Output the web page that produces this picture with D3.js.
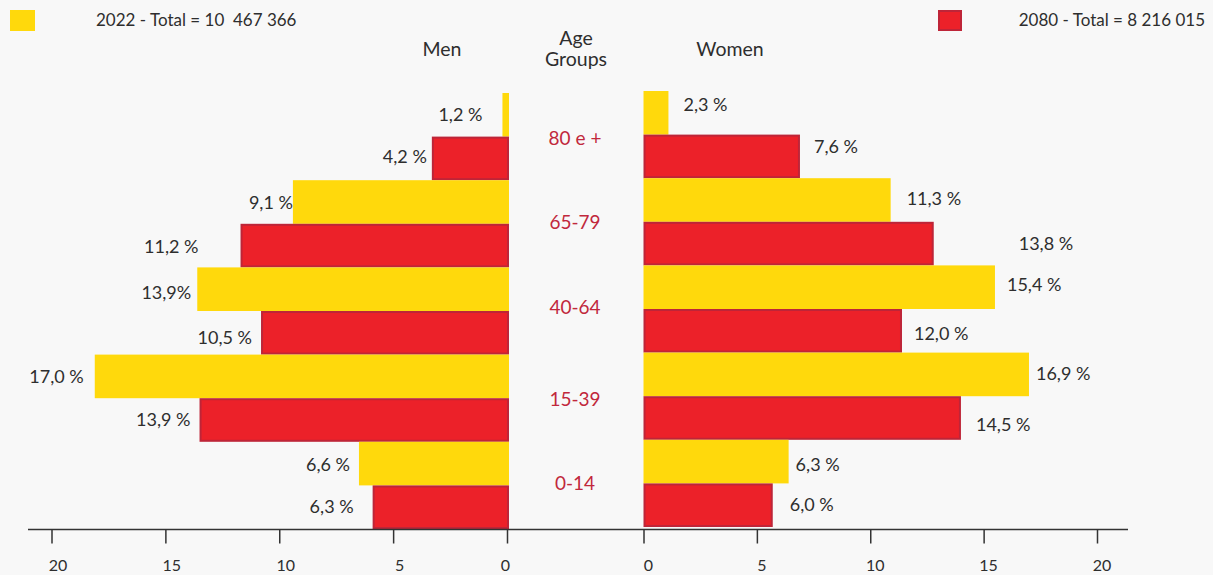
<!DOCTYPE html>
<html>
<head>
<meta charset="utf-8">
<script src="https://cdn.jsdelivr.net/npm/d3@7"></script>
<style>
    body { margin: 0; background: #f8f8f8; }
    svg { display: block; font-family: Lato, "Open Sans", sans-serif; }
</style>
</head>
<body>
<div id="chart"></div>
<script>
// Data
const ageGroups = ["80 e +", "65-79", "40-64", "15-39", "0-14"];
const years = ["2022", "2080"];
// bar lengths as drawn in the picture (%)
const men2022 = [0.2, 9.4, 13.6, 18.1, 6.5];
const men2080 = [3.3, 11.7, 10.8, 13.5, 5.9];
const women2022 = [1.1, 10.9, 15.5, 17.0, 6.4];
const women2080 = [6.9, 12.8, 11.4, 14.0, 5.7];
// printed labels
const menLabels2022 = ["1,2 %", "9,1 %", "13,9%", "17,0 %", "6,6 %"];
const menLabels2080 = ["4,2 %", "11,2 %", "10,5 %", "13,9 %", "6,3 %"];
const womenLabels2022 = ["2,3 %", "11,3 %", "15,4 %", "16,9 %", "6,3 %"];
const womenLabels2080 = ["7,6 %", "13,8 %", "12,0 %", "14,5 %", "6,0 %"];
const tickValues = [0, 5, 10, 15, 20];
const legendLabels = ["2022 - Total = 10  467 366", "2080 - Total = 8 216 015"];

// Layout
const canvas = { w: 1213, h: 575 };
const colors = { "2022": "#ffd90c", "2080": "#ec2129" };
const redStroke = "#be2538";
const textColor = "#2e2e2e";

// label shifts [dx, dy] to follow the original hand placement
const menShift = { "2022": [[-11, 0], [9, 1], [3, 3], [-2, 0], [0, 1]],
                   "2080": [[4, -2], [-33, 1], [0, 5], [0, 0], [-10, -1]] };
const womenShift = { "2022": [[3, -8], [4, -1], [0, -3], [-5, -1], [-5, 3]],
                     "2080": [[2, -10], [73, 0], [0, 3], [3, 7], [5, -1]] };
const ageShift = [2, -1, -4, 1, -2];

// Build rows
const rows = [];
ageGroups.forEach((g, i) => {
    rows.push({ group: g, year: "2022", i, men: men2022[i], women: women2022[i],
                menLabel: menLabels2022[i], womenLabel: womenLabels2022[i] });
    rows.push({ group: g, year: "2080", i, men: men2080[i], women: women2080[i],
                menLabel: menLabels2080[i], womenLabel: womenLabels2080[i] });
});
const key = d => d.group + "|" + d.year;

// Scales
const y = d3.scaleBand().domain(rows.map(key)).range([93, 529]).padding(0);
const xMen = d3.scaleLinear().domain([0, 20]).range([507, 51.5]);
const xWomen = d3.scaleLinear().domain([0, 20]).range([643.5, 1097]);

const svg = d3.select("#chart").append("svg")
    .attr("width", canvas.w)
    .attr("height", canvas.h)
    .attr("viewBox", `0 0 ${canvas.w} ${canvas.h}`);

svg.append("rect").attr("width", canvas.w).attr("height", canvas.h).attr("fill", "#f8f8f8");

// Legend
svg.append("rect").attr("x", 10).attr("y", 10).attr("width", 25).attr("height", 21)
    .attr("fill", colors["2022"]);
svg.append("text").attr("x", 96).attr("y", 26).attr("font-size", 17)
    .attr("fill", textColor).attr("xml:space", "preserve").text(legendLabels[0]);
svg.append("rect").attr("x", 939).attr("y", 11).attr("width", 22).attr("height", 19)
    .attr("fill", colors["2080"]).attr("stroke", redStroke).attr("stroke-width", 2);
svg.append("text").attr("x", 1205).attr("y", 26).attr("font-size", 17)
    .attr("text-anchor", "end").attr("fill", textColor).text(legendLabels[1]);

// Headers
const header = svg.append("g").attr("fill", textColor).attr("font-size", 19.5)
    .attr("text-anchor", "middle");
header.append("text").attr("x", 442).attr("y", 56).text("Men");
header.append("text").attr("x", 730).attr("y", 56).text("Women");
header.append("text").attr("x", 576).attr("y", 45).text("Age");
header.append("text").attr("x", 576).attr("y", 66).text("Groups");

// Bars
const barAttrs = sel => sel
    .attr("fill", d => colors[d.year])
    .attr("stroke", d => d.year === "2080" ? redStroke : "none")
    .attr("stroke-width", 2);

svg.append("g").selectAll("rect").data(rows).join("rect")
    .attr("x", d => xMen(d.men) + (d.year === "2080" ? 1 : 0))
    .attr("y", d => y(key(d)) + (d.year === "2080" ? 1 : 0))
    .attr("width", d => xMen(0) - xMen(d.men) - (d.year === "2080" ? 2 : 0) + 2)
    .attr("height", d => y.bandwidth() - (d.year === "2080" ? 2 : 0))
    .call(barAttrs);

svg.append("g").selectAll("rect").data(rows).join("rect")
    .attr("x", d => xWomen(0) + (d.year === "2080" ? 1 : 0))
    .attr("y", d => y(key(d)) - 2 + (d.year === "2080" ? 1 : 0))
    .attr("width", d => xWomen(d.women) - xWomen(0) - (d.year === "2080" ? 2 : 0))
    .attr("height", d => y.bandwidth() - (d.year === "2080" ? 2 : 0))
    .call(barAttrs);

// Value labels
svg.append("g").selectAll("text").data(rows).join("text")
    .attr("x", d => xMen(d.men) - 9 + menShift[d.year][d.i][0])
    .attr("y", d => y(key(d)) + y.bandwidth() / 2 + menShift[d.year][d.i][1])
    .attr("dy", "0.35em")
    .attr("text-anchor", "end")
    .attr("font-size", 18)
    .attr("fill", textColor)
    .text(d => d.menLabel);

svg.append("g").selectAll("text").data(rows).join("text")
    .attr("x", d => xWomen(d.women) + 12 + womenShift[d.year][d.i][0])
    .attr("y", d => y(key(d)) - 2 + y.bandwidth() / 2 + womenShift[d.year][d.i][1])
    .attr("dy", "0.35em")
    .attr("font-size", 18)
    .attr("fill", textColor)
    .text(d => d.womenLabel);

// Age group labels
svg.append("g").selectAll("text").data(ageGroups).join("text")
    .attr("x", 575)
    .attr("y", (g, i) => y(g + "|2080") + ageShift[i])
    .attr("dy", "0.35em")
    .attr("text-anchor", "middle")
    .attr("font-size", 19)
    .attr("fill", "#c1283c")
    .text(g => g);

// Axes
svg.append("line").attr("x1", 28).attr("x2", 1128).attr("y1", 529.5).attr("y2", 529.5)
    .attr("stroke", "#333").attr("stroke-width", 1.5);

const axisMen = d3.axisBottom(xMen).tickValues(tickValues).tickSize(14).tickPadding(16);
const axisWomen = d3.axisBottom(xWomen).tickValues(tickValues).tickSize(14).tickPadding(16);

[[axisMen, d => d === 0 ? -2 : 6], [axisWomen, () => 4.5]].forEach(([ax, dx]) => {
    const g = svg.append("g").attr("transform", "translate(0,529.5)").call(ax);
    g.select(".domain").remove();
    g.selectAll(".tick line").attr("stroke", "#333").attr("stroke-width", 1.5);
    g.selectAll(".tick text")
        .attr("font-family", "Lato, sans-serif")
        .attr("font-size", 16)
        .attr("fill", textColor)
        .attr("dx", dx);
});
</script>
</body>
</html>
